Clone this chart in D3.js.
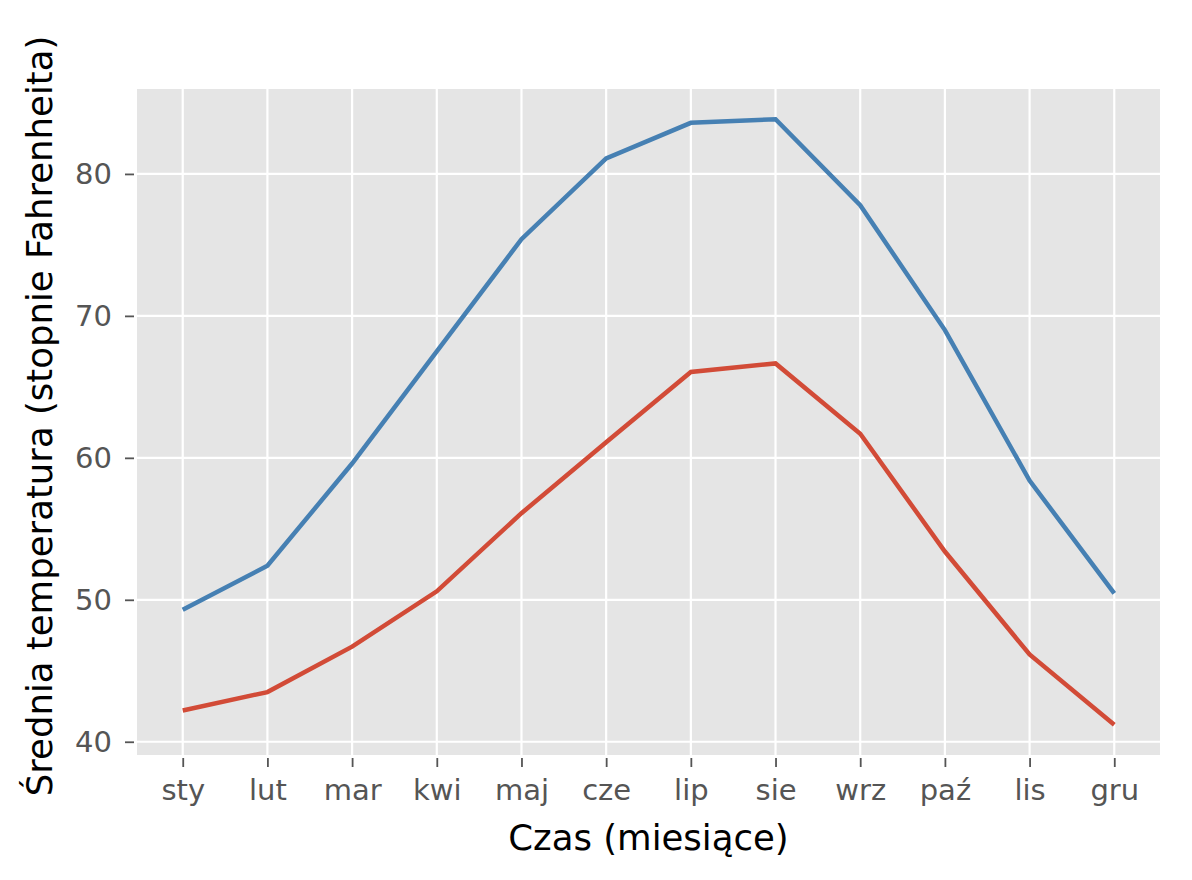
<!DOCTYPE html>
<html>
<head>
<meta charset="utf-8">
<script src="https://cdn.jsdelivr.net/npm/d3@7"></script>
<style>
  body { margin: 0; background: #fff; }
  text { font-family: "DejaVu Sans", sans-serif; }
</style>
</head>
<body>
<div id="chart"></div>
<script>
// month labels (x axis)
const months = ["sty", "lut", "mar", "kwi", "maj", "cze", "lip", "sie", "wrz", "paź", "lis", "gru"];
// average highs and lows
const highTemps = [49.3, 52.4, 59.6, 67.5, 75.4, 81.1, 83.6, 83.85, 77.8, 69.0, 58.4, 50.45];
const lowTemps = [42.2, 43.5, 46.7, 50.6, 56.1, 61.1, 66.05, 66.65, 61.7, 53.4, 46.15, 41.2];
const yTicks = [40, 50, 60, 70, 80];

const w = 1192, h = 880;
const margin = {top: 89, right: 32, bottom: 125, left: 137};

const svg = d3.select("#chart")
    .append("svg")
    .attr("width", w)
    .attr("height", h);

// x scale, index based with a small margin like matplotlib
const xScale = d3.scaleLinear()
    .domain([-0.54, months.length - 1 + 0.54])
    .range([margin.left, w - margin.right]);

// y scale
const allVals = highTemps.concat(lowTemps);
const yMin = d3.min(allVals), yMax = d3.max(allVals);
const pad = (yMax - yMin) * 0.05;
const yScale = d3.scaleLinear()
    .domain([yMin - pad, yMax + pad])
    .range([h - margin.bottom, margin.top]);

// background
svg.append("rect")
    .attr("x", margin.left)
    .attr("y", margin.top)
    .attr("width", w - margin.left - margin.right)
    .attr("height", h - margin.top - margin.bottom)
    .attr("fill", "#e5e5e5");

// grid
const grid = svg.append("g");
grid.selectAll(".vgrid")
    .data(months)
    .enter()
    .append("line")
    .attr("x1", (d, i) => xScale(i))
    .attr("x2", (d, i) => xScale(i))
    .attr("y1", margin.top)
    .attr("y2", h - margin.bottom)
    .attr("stroke", "#fff")
    .attr("stroke-width", 2.2);
grid.selectAll(".hgrid")
    .data(yTicks)
    .enter()
    .append("line")
    .attr("x1", margin.left)
    .attr("x2", w - margin.right)
    .attr("y1", d => yScale(d))
    .attr("y2", d => yScale(d))
    .attr("stroke", "#fff")
    .attr("stroke-width", 2.2);

// x axis
const xAxis = d3.axisBottom(xScale)
    .tickValues(d3.range(months.length))
    .tickFormat(i => months[i])
    .tickSize(9)
    .tickPadding(12);
const xAxisG = svg.append("g")
    .attr("transform", `translate(0, ${h - margin.bottom + 3})`)
    .call(xAxis);
xAxisG.select(".domain").remove();
xAxisG.selectAll("line").attr("stroke", "#555").attr("stroke-width", 1.8);
xAxisG.selectAll("text")
    .style("font-size", "29px")
    .style("font-family", "DejaVu Sans")
    .attr("fill", "#555");

// y axis
const yAxis = d3.axisLeft(yScale)
    .tickValues(yTicks)
    .tickSize(9)
    .tickPadding(13);
const yAxisG = svg.append("g")
    .attr("transform", `translate(${margin.left - 3}, 0)`)
    .call(yAxis);
yAxisG.select(".domain").remove();
yAxisG.selectAll("line").attr("stroke", "#555").attr("stroke-width", 1.8);
yAxisG.selectAll("text")
    .style("font-size", "29px")
    .style("font-family", "DejaVu Sans")
    .attr("fill", "#555");

// lines
const lineGenerator = d3.line()
    .x((d, i) => xScale(i))
    .y(d => yScale(d));
svg.append("path")
    .attr("d", lineGenerator(highTemps))
    .attr("fill", "none")
    .attr("stroke", "#4680b3")
    .attr("stroke-width", 4.5);
svg.append("path")
    .attr("d", lineGenerator(lowTemps))
    .attr("fill", "none")
    .attr("stroke", "#d24b37")
    .attr("stroke-width", 4.5);

// axis labels
svg.append("text")
    .attr("x", (margin.left + w - margin.right) / 2)
    .attr("y", 850)
    .attr("text-anchor", "middle")
    .style("font-size", "35.5px")
    .attr("fill", "#000")
    .text("Czas (miesiące)");
svg.append("text")
    .attr("transform", `translate(52, ${(margin.top + h - margin.bottom) / 2 - 6}) rotate(-90)`)
    .attr("text-anchor", "middle")
    .style("font-size", "35.5px")
    .attr("fill", "#000")
    .text("Średnia temperatura (stopnie Fahrenheita)");
</script>
</body>
</html>
